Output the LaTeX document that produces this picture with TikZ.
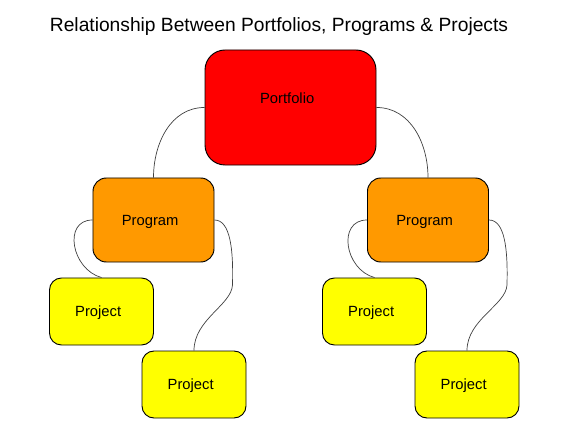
\documentclass[tikz,border=0pt]{standalone}
\usepackage{fontspec}
\setmainfont{Liberation Sans}
\usetikzlibrary{calc}
\definecolor{pfcolor}  {RGB}{255, 0, 0}
\definecolor{prgcolor} {RGB}{255, 153, 0}
\definecolor{prjcolor} {RGB}{255, 255, 0}
\tikzset{
	baseblock/.style={
		rectangle, inner sep=0pt,
		align=center, font=\fontsize{12.6}{15}\selectfont,
		text height=0.32cm, text depth=0cm,
		execute at begin node={\kern-0.2cm},
		draw=black, line width=0.8pt
	},
	pfblock/.style={
		baseblock, fill=pfcolor, rounded corners=0.6cm,
		minimum width=5.13cm, minimum height=3.45cm,
		text depth=0.57cm
	},
	prgblock/.style={
		baseblock, fill=prgcolor, rounded corners=0.4cm,
		minimum width=3.63cm, minimum height=2.52cm
	},
	prjblock/.style={
		baseblock, fill=prjcolor, rounded corners=0.36cm,
		minimum width=3.12cm, minimum height=2.01cm
	},
	link/.style={
		draw=black!75, line width=0.6pt
	},
	titletext/.style={
		font=\fontsize{16.4}{19}\selectfont, anchor=base, inner sep=0pt
	}
}

\begin{document}
\begin{tikzpicture}[x=0.03cm, y=-0.03cm]
	\useasboundingbox (0,0) rectangle (573,433);

	%% title
	\node[titletext] (title) at (279,31.7) {Relationship Between Portfolios, Programs \& Projects};

	%% top row
	\node[pfblock] (portfolio) at (290.5,107.5) {Portfolio};

	%% programs
	\node[prgblock] (prgL) at (153.5,220) {Program};
	\node[prgblock] (prgR) at (428,220) {Program};

	%% projects
	\node[prjblock] (prjL1) at (101.5,311.5) {Project};
	\node[prjblock] (prjL2) at (194,384.5) {Project};
	\node[prjblock] (prjR1) at (374.5,311.5) {Project};
	\node[prjblock] (prjR2) at (467,384.5) {Project};

	% Portfolio -> Programs
	\draw[link] (portfolio.west) to[out=180, in=90] (prgL.north);
	\draw[link] (portfolio.east) to[out=0, in=90] (prgR.north);

	% Program -> first Project (small loop on the left)
	\draw[link] (prgL.west) .. controls +(-30,0) and +(-30,-8) .. (prjL1.north);
	\draw[link] (prgR.west) .. controls +(-30,0) and +(-30,-8) .. (prjR1.north);

	% Program -> second Project (S bend on the right)
	\draw[link] (prgL.east) .. controls +(16,0) and +(1,-35) .. ($(prgL.east)+(18,65)$)
		.. controls +(-1,20) and +(0,-31) .. (prjL2.north);
	\draw[link] (prgR.east) .. controls +(16,0) and +(1,-35) .. ($(prgR.east)+(18,65)$)
		.. controls +(-1,20) and +(0,-31) .. (prjR2.north);

\end{tikzpicture}
\end{document}
